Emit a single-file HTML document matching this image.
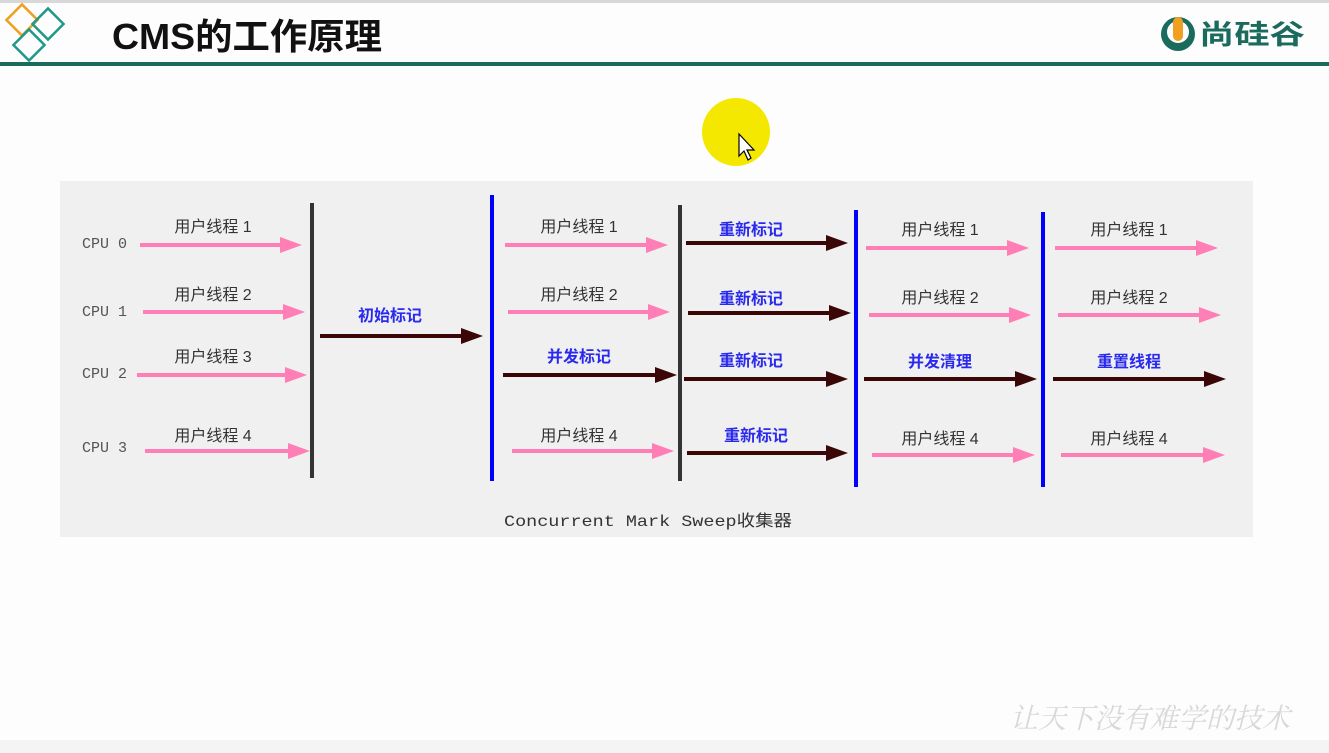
<!DOCTYPE html>
<html><head><meta charset="utf-8"><style>
html,body{margin:0;padding:0;background:#fdfdfd;}
svg{display:block;}
</style></head><body>
<svg width="1329" height="753" xmlns="http://www.w3.org/2000/svg" font-family="Liberation Sans, Noto Sans CJK SC, sans-serif">
<rect width="1329" height="753" fill="#fdfdfd"/>
<rect x="0" y="0" width="1329" height="3" fill="#d8d8d8"/>
<g fill="none" stroke-width="2.5">
<rect x="11" y="9" width="22" height="22" transform="rotate(45 22 20)" stroke="#f0a020"/>
<rect x="37" y="13" width="22" height="22" transform="rotate(45 48 24)" stroke="#1f9a8a"/>
<rect x="18" y="34" width="22" height="22" transform="rotate(45 29 45)" stroke="#1f9a8a"/>
</g>
<text x="112" y="49" font-size="36" font-weight="bold" fill="#111" textLength="270" lengthAdjust="spacingAndGlyphs">CMS的工作原理</text>
<rect x="0" y="62" width="1329" height="4" fill="#1a6b5e"/>
<circle cx="1178" cy="34" r="17" fill="#1a6b5e"/>
<circle cx="1178" cy="32" r="11" fill="#fdfdfd"/>
<rect x="1173" y="17" width="10" height="24" rx="5" fill="#f0a020"/>
<text x="1199" y="44" font-size="27" font-weight="bold" fill="#1a6b5e" textLength="106" lengthAdjust="spacingAndGlyphs">尚硅谷</text>
<circle cx="736" cy="132" r="34" fill="#f5e800"/>
<path d="M739,134 L739,156 L744,151 L748,160 L751,158 L747,150 L754,150 z" fill="#fff" stroke="#000" stroke-width="1.2"/>
<rect x="60" y="181" width="1193" height="356" fill="#f0f0f0"/>
<g font-family="Liberation Mono, monospace" font-size="15" fill="#555">
<text x="82" y="248">CPU 0</text><text x="82" y="316">CPU 1</text><text x="82" y="378">CPU 2</text><text x="82" y="452">CPU 3</text>
</g>
<g font-size="16" fill="#333" text-anchor="middle">
<text x="213" y="232">用户线程 1</text><text x="213" y="300">用户线程 2</text><text x="213" y="362">用户线程 3</text><text x="213" y="441">用户线程 4</text>
<text x="579" y="232">用户线程 1</text><text x="579" y="300">用户线程 2</text><text x="579" y="441">用户线程 4</text>
<text x="940" y="235">用户线程 1</text><text x="940" y="303">用户线程 2</text><text x="940" y="444">用户线程 4</text>
<text x="1129" y="235">用户线程 1</text><text x="1129" y="303">用户线程 2</text><text x="1129" y="444">用户线程 4</text>
</g>
<g font-size="16" fill="#2a2aee" text-anchor="middle" font-weight="bold">
<text x="390" y="321">初始标记</text>
<text x="579" y="362">并发标记</text>
<text x="751" y="235">重新标记</text><text x="751" y="304">重新标记</text><text x="751" y="366">重新标记</text><text x="756" y="441">重新标记</text>
<text x="940" y="367">并发清理</text><text x="1129" y="367">重置线程</text>
</g>
<g stroke="#ff7eb6" stroke-width="4">
<line x1="140" y1="245" x2="284" y2="245"/><line x1="143" y1="312" x2="287" y2="312"/><line x1="137" y1="375" x2="289" y2="375"/><line x1="145" y1="451" x2="292" y2="451"/>
<line x1="505" y1="245" x2="650" y2="245"/><line x1="508" y1="312" x2="652" y2="312"/><line x1="512" y1="451" x2="656" y2="451"/>
<line x1="866" y1="248" x2="1011" y2="248"/><line x1="869" y1="315" x2="1013" y2="315"/><line x1="872" y1="455" x2="1017" y2="455"/>
<line x1="1055" y1="248" x2="1200" y2="248"/><line x1="1058" y1="315" x2="1203" y2="315"/><line x1="1061" y1="455" x2="1207" y2="455"/>
</g>
<g fill="#ff7eb6">
<polygon points="280,237 302,245 280,253"/><polygon points="283,304 305,312 283,320"/><polygon points="285,367 307,375 285,383"/><polygon points="288,443 310,451 288,459"/>
<polygon points="646,237 668,245 646,253"/><polygon points="648,304 670,312 648,320"/><polygon points="652,443 674,451 652,459"/>
<polygon points="1007,240 1029,248 1007,256"/><polygon points="1009,307 1031,315 1009,323"/><polygon points="1013,447 1035,455 1013,463"/>
<polygon points="1196,240 1218,248 1196,256"/><polygon points="1199,307 1221,315 1199,323"/><polygon points="1203,447 1225,455 1203,463"/>
</g>
<g stroke="#3a0606" stroke-width="4">
<line x1="320" y1="336" x2="465" y2="336"/>
<line x1="503" y1="375" x2="659" y2="375"/>
<line x1="686" y1="243" x2="830" y2="243"/><line x1="688" y1="313" x2="833" y2="313"/><line x1="684" y1="379" x2="830" y2="379"/><line x1="687" y1="453" x2="830" y2="453"/>
<line x1="864" y1="379" x2="1019" y2="379"/><line x1="1053" y1="379" x2="1208" y2="379"/>
</g>
<g fill="#3a0606">
<polygon points="461,328 483,336 461,344"/>
<polygon points="655,367 677,375 655,383"/>
<polygon points="826,235 848,243 826,251"/><polygon points="829,305 851,313 829,321"/><polygon points="826,371 848,379 826,387"/><polygon points="826,445 848,453 826,461"/>
<polygon points="1015,371 1037,379 1015,387"/><polygon points="1204,371 1226,379 1204,387"/>
</g>
<g stroke-width="4">
<line x1="312" y1="203" x2="312" y2="478" stroke="#333"/>
<line x1="492" y1="195" x2="492" y2="481" stroke="#0000ff"/>
<line x1="680" y1="205" x2="680" y2="481" stroke="#333"/>
<line x1="856" y1="210" x2="856" y2="487" stroke="#0000ff"/>
<line x1="1043" y1="212" x2="1043" y2="487" stroke="#0000ff"/>
</g>
<text x="504" y="526" font-size="16" fill="#333" font-family="Liberation Mono, Noto Sans CJK SC, monospace" textLength="288" lengthAdjust="spacingAndGlyphs">Concurrent Mark Sweep收集器</text>
<text x="1150" y="728" text-anchor="middle" font-size="28" fill="#d8d8d8" font-style="italic" font-family="Noto Serif CJK SC, serif">让天下没有难学的技术</text>
<rect x="0" y="740" width="1329" height="13" fill="#f4f4f4"/>
</svg>
</body></html>
